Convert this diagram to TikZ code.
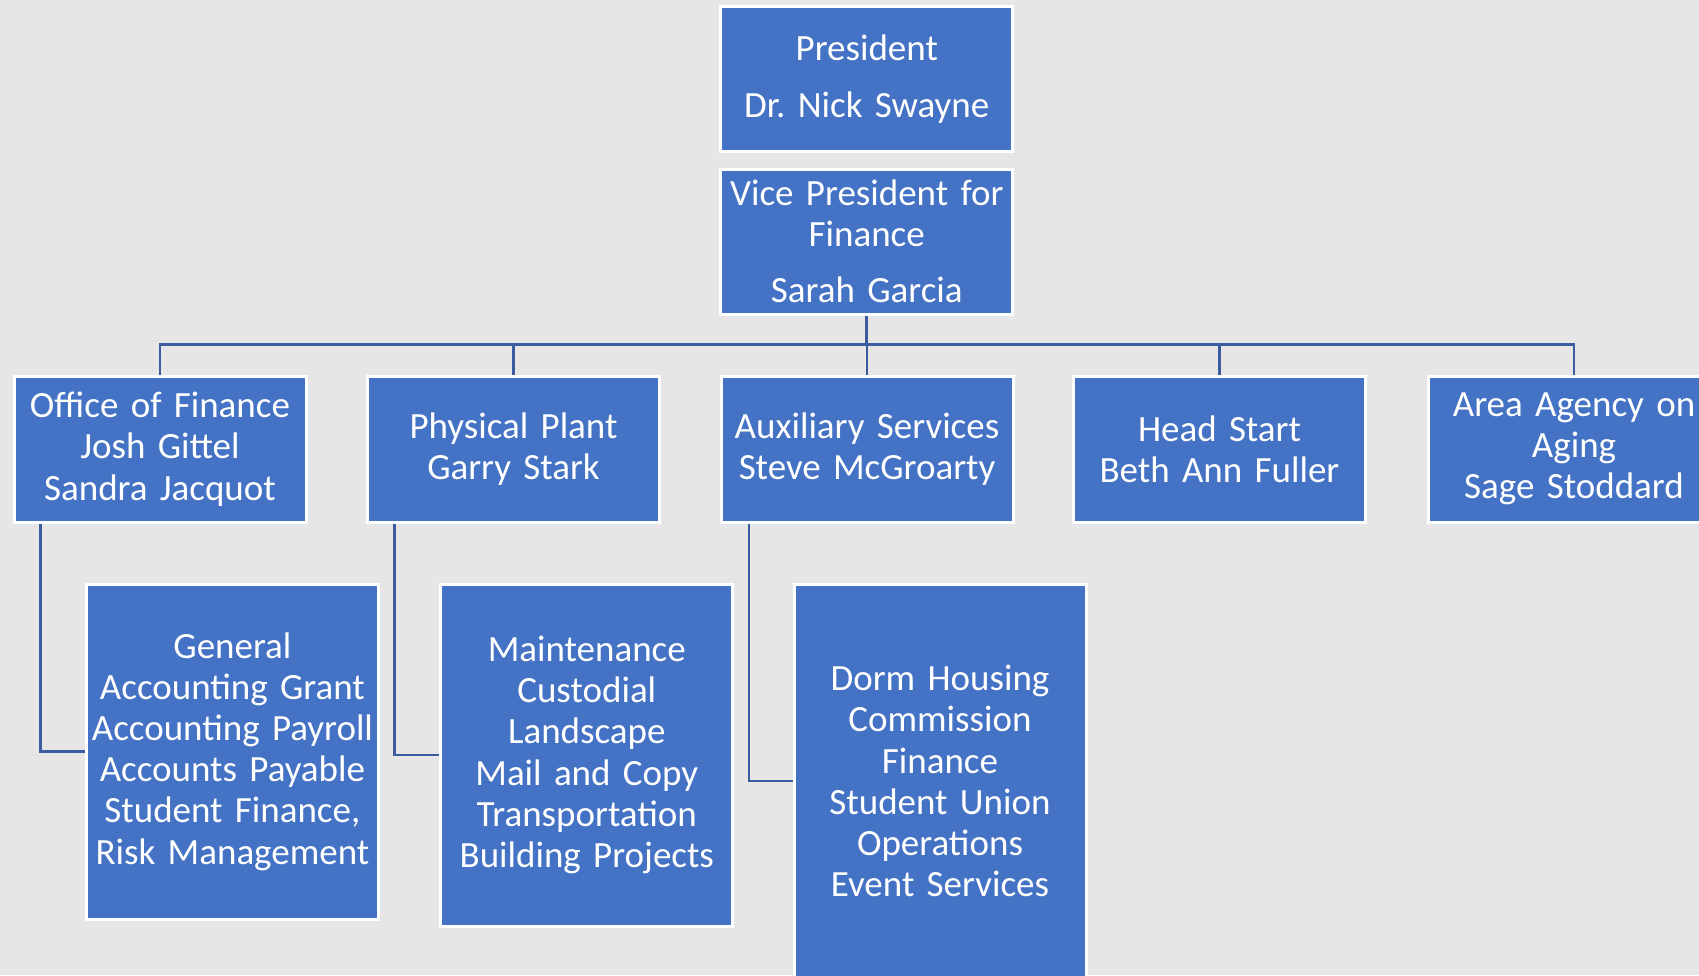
\documentclass[tikz,border=0pt]{standalone}
\usepackage{fontspec}
\setmainfont{Carlito}
\definecolor{boxblue}{RGB}{68,114,196}
\definecolor{bg}{RGB}{230,230,230}
\definecolor{linkblue}{RGB}{59,92,158}
\newcommand{\boxfont}{\fontsize{37}{41.2}\selectfont\spaceskip=0.17em\relax}
\begin{document}
\frenchspacing
\begin{tikzpicture}[x=1pt,y=-1pt,
  orgbox/.style={fill=boxblue, draw=white, line width=3pt, text=white, align=center,
    inner sep=0pt, minimum width=292, text width=290, font=\boxfont},
  link/.style={draw=linkblue, line width=2.6pt}]
\fill[bg] (0,0) rectangle (1699,975);
\useasboundingbox (0,0) rectangle (1699,975);
\node[orgbox, minimum height=145] (pres) at (866.75,79.1) {President\\[15pt]Dr. Nick Swayne};
\node[orgbox, minimum height=145] (vp) at (866.75,241.5) {Vice President for\\Finance\\[15pt]Sarah Garcia};
\node[orgbox, minimum height=146] (of) at (160,449) {Office of Finance\\Josh Gittel\\Sandra Jacquot};
\node[orgbox, minimum height=146] (pp) at (513.5,449) {Physical Plant\\Garry Stark};
\node[orgbox, minimum height=146] (aux) at (867,449) {Auxiliary Services\\Steve McGroarty};
\node[orgbox, minimum height=146] (hs) at (1219.5,449) {Head Start\\Beth Ann Fuller};
\node[orgbox, minimum height=146] (area) at (1574,449) {Area Agency on\\Aging\\Sage Stoddard};
\node[orgbox, minimum height=335] (gen) at (232.4,751.5) {General\\Accounting Grant\\Accounting Payroll\\Accounts Payable\\Student Finance,\\Risk Management};
\node[orgbox, minimum height=342] (maint) at (586.8,755) {Maintenance\\Custodial\\Landscape\\Mail and Copy\\Transportation\\Building Projects};
\node[orgbox, minimum height=394] (dorm) at (940,781) {Dorm Housing\\Commission\\Finance\\Student Union\\Operations\\Event Services};
\coordinate (bar) at (866.75,344.6);
\draw[link] (vp.south) -- (bar);
\foreach \n in {of,pp,aux,hs,area}{
  \draw[link] (bar) -| (\n.north);
}
\draw[link] ([xshift=28]of.south west) |- (gen.west);
\draw[link] ([xshift=28.5]pp.south west) |- (maint.west);
\draw[link] ([xshift=29.5]aux.south west) |- (dorm.west);
\end{tikzpicture}
\end{document}
